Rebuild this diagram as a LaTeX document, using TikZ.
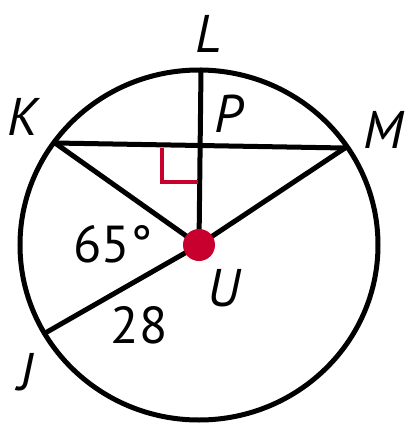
\documentclass[tikz,border=0pt]{standalone}
\usepackage{fontspec}
\setmainfont{PT Sans}
\definecolor{crim}{RGB}{200,0,45}
\begin{document}
\begin{tikzpicture}[x=1pt,y=-1pt,
  seg/.style={line width=5pt,line cap=round},
  lbl/.style={font=\fontsize{53}{60}\selectfont\itshape,inner sep=0pt},
  num/.style={font=\fontsize{52}{60}\selectfont,inner sep=0pt}]
\useasboundingbox (0,0) rectangle (410,424);
\draw[line width=5pt] (199,245) ellipse [x radius=179, y radius=175];
\coordinate (U) at (199,245);
\coordinate (K) at (55,143);
\coordinate (M) at (345,148);
\coordinate (L) at (201,70);
\coordinate (J) at (47,332);
\coordinate (P) at (200,145.5);
\draw[seg] (K) -- (M);
\draw[seg] (K) -- (U);
\draw[seg] (M) -- (U);
\draw[seg] (J) -- (U);
\draw[seg] (L) -- (U);
\draw[crim,line width=3.2pt] (162,148) -- (162,182) -- (198,182);
\fill[crim] (U) circle (16);
\node[lbl] (lL) at (209,34) {L};
\node[lbl] (lK) at (23,117) {K};
\node[lbl] (lP) at (229,114) {P};
\node[lbl] (lM) at (383,130) {M};
\node[lbl] (lU) at (224,288) {U};
\node[lbl] (lJ) at (26,372) {J};
\node[num] (a65) at (113,244) {65°};
\node[num] (d28) at (139,325) {28};
\end{tikzpicture}
\end{document}
